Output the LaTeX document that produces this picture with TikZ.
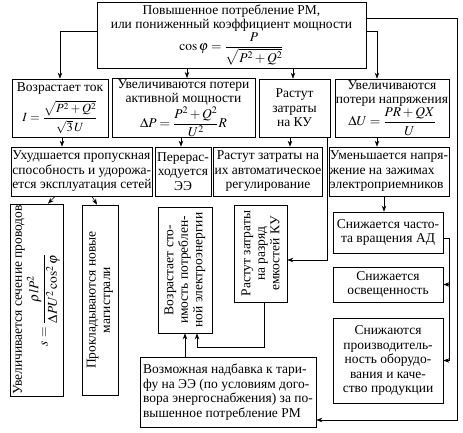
\documentclass[tikz,border=0pt]{standalone}
\usepackage{mathptmx}
\usepackage{fontspec}
\setmainfont{Liberation Serif}
\newfontfamily\rusfont{Liberation Serif}
\usetikzlibrary{arrows.meta}
\begin{document}
\begin{tikzpicture}[x=1pt,y=-1pt,
  box/.style={draw, line width=0.7pt, inner sep=1pt, font=\rusfont\fontsize{13.5}{14.5}\selectfont, align=center},
  lbox/.style={box, align=left},
  arr/.style={-{Stealth[length=6pt,width=4.5pt]}, line width=0.6pt},
  ln/.style={line width=0.6pt}]
\useasboundingbox (0,0) rectangle (463,433);

\node[box, minimum width=269pt, minimum height=66pt] (top) at (231.5,35)
  {Повышенное потребление РМ,\\ или пониженный коэффициент мощности\\
   $\displaystyle\cos\varphi=\frac{P}{\sqrt{P^2+Q^2}}$};

\node[box, minimum width=96pt, minimum height=58pt] (A) at (60,108)
  {Возрастает ток\\[5pt] {\fontsize{12.5}{13}\selectfont$\displaystyle I=\frac{\sqrt{P^2+Q^2}}{\sqrt{3}\,U}$}};
\node[box, minimum width=143pt, minimum height=58pt] (B) at (183.5,108)
  {Увеличиваются потери\\ активной мощности\\ $\displaystyle \Delta P=\frac{P^2+Q^2}{U^2}R$};
\node[box, minimum width=71pt, minimum height=58pt] (C) at (294.5,108)
  {Растут\\ затраты\\ на КУ};
\node[box, minimum width=110pt, minimum height=58pt] (D) at (392,108)
  {Увеличиваются\\ потери напряжения\\ $\displaystyle \Delta U=\frac{PR+QX}{U}$};

\node[lbox, minimum width=140pt, minimum height=49pt] (E) at (82,171.5)
  {Ухудшается пропускная\\ способность и удорожа-\\ ется эксплуатация сетей};
\node[box, minimum width=56pt, minimum height=49pt] (F) at (183,171.5)
  {Перерас-\\ ходуется\\ ЭЭ};
\node[box, minimum width=108pt, minimum height=49pt] (G) at (268,171.5)
  {Растут затраты на\\ их автоматическое\\ регулирование};
\node[lbox, minimum width=112pt, minimum height=49pt] (H) at (389,171.5)
  {Уменьшается напря-\\ жение на зажимах\\ электроприемников};

\node[box, minimum width=110pt, minimum height=41pt] (I) at (388,232.5)
  {Снижается часто-\\ та вращения АД};
\node[box, minimum width=110pt, minimum height=35pt] (J) at (388,284.5)
  {Снижается\\ освещенность};
\node[box, minimum width=110pt, minimum height=85pt] (K) at (388,360.5)
  {Снижаются\\ производитель-\\ ность оборудо-\\ вания и каче-\\ ство продукции};

\node[lbox, minimum width=176pt, minimum height=70pt] (L) at (228,392)
  {Возможная надбавка к тари-\\ фу на ЭЭ (по условиям дого-\\ вора энергоснабжения) за по-\\ вышенное потребление РМ};

\node[box, rotate=90, minimum width=190pt, minimum height=53pt] (R1) at (36.5,300)
  {Увеличивается сечение проводов\\[1pt] $\displaystyle s=\frac{\rho l P^2}{\Delta P U^2\cos^2\varphi}$};
\node[box, rotate=90, minimum width=190pt, minimum height=36pt] (R2) at (100,300)
  {Прокладываются новые\\ магистрали};
\node[box, rotate=90, minimum width=126pt, minimum height=54pt] (R3) at (185,270)
  {Возрастает сто-\\ имость потреблен-\\ ной электроэнергии};
\node[box, rotate=90, minimum width=97pt, minimum height=53pt] (R4) at (260.5,253.5)
  {Растут затраты\\ на разряд\\ емкостей КУ};

\coordinate (rc) at (457,420);
\coordinate (bus1) at (449,284.5);
\coordinate (bus2) at (449,360.5);
\coordinate (kc) at (264,347);

\draw[arr] (top.west |- 0,31) -| (A.north);
\draw[arr] (top.south -| 187,0) -- (B.north -| 187,0);
\draw[arr] (top.south -| 293,0) -- (C.north -| 293,0);
\draw[arr] (top.east |- 0,31) -| (D.north -| 377,0);
\draw[arr] (top.east |- 0,18) -| (rc) -- (L.east |- rc);

\draw[arr] (A.south -| 62,0) -- (E.north -| 62,0);
\draw[arr] (B.south -| 181,0) -- (F.north -| 181,0);
\draw[arr] (C.south -| 290,0) -- (G.north -| 290,0);
\draw[arr] (C.south -| 327,0) |- (R4.south |- 0,260);
\draw[arr] (D.south -| 377,0) -- (H.north -| 377,0);
\draw[arr] (H.south -| 384,0) -- (I.north -| 384,0);

\draw[ln] (I.east |- 0,238) -| (bus2);
\draw[arr] (bus1) -- (J.east);
\draw[arr] (bus2) -- (K.east);

\draw[arr] (E.south -| 55,0) -- (R1.east -| 48,0);
\draw[arr] (E.south -| 92,0) -- (R2.east -| 97,0);
\draw[arr] (L.north -| 185,0) -- (R3.west -| 185,0);
\draw[arr] (R4.west -| kc) -- (kc) -| (R3.west -| 197,0);
\end{tikzpicture}
\end{document}
